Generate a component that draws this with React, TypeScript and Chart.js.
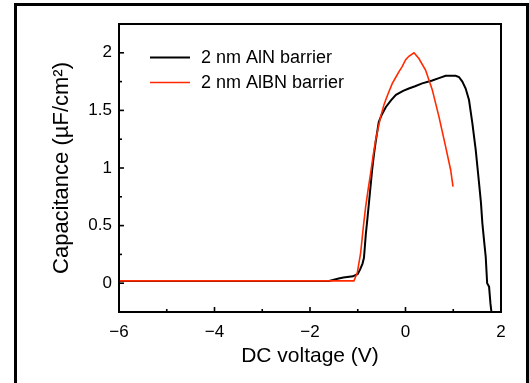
import React, { useEffect, useRef } from "react";
import { Chart, registerables } from "chart.js";

Chart.register(...registerables);

// AlN barrier (black) — DC voltage (V) vs capacitance (µF/cm²)
const alnVoltage = [-6, -5, -4, -3, -2, -1.6, -1.5, -1.4, -1.3, -1.1, -1.0, -0.95, -0.9, -0.87, -0.83, -0.8, -0.76, -0.7, -0.66, -0.62, -0.56, -0.5, -0.41, -0.3, -0.2, -0.05, 0.07, 0.2, 0.35, 0.56, 0.7, 0.84, 0.95, 1.05, 1.12, 1.19, 1.26, 1.33, 1.4, 1.47, 1.54, 1.58, 1.61, 1.65, 1.68, 1.71, 1.75, 1.78, 1.8];
const alnCap = [0.02, 0.02, 0.02, 0.02, 0.02, 0.02, 0.03, 0.04, 0.05, 0.06, 0.08, 0.12, 0.17, 0.22, 0.43, 0.55, 0.72, 0.98, 1.12, 1.24, 1.4, 1.46, 1.53, 1.59, 1.635, 1.67, 1.69, 1.71, 1.735, 1.76, 1.78, 1.8, 1.8, 1.8, 1.79, 1.75, 1.69, 1.59, 1.39, 1.16, 0.87, 0.7, 0.52, 0.35, 0.23, 0.0, -0.03, -0.18, -0.25];

// AlBN barrier (red)
const albnVoltage = [-6, -5, -4, -3, -2, -1.5, -1.08, -1.01, -0.94, -0.88, -0.834, -0.78, -0.73, -0.68, -0.625, -0.57, -0.52, -0.45, -0.415, -0.35, -0.276, -0.2, -0.136, -0.07, 0.004, 0.07, 0.178, 0.28, 0.42, 0.56, 0.7, 0.84, 0.946, 0.995];
const albnCap = [0.02, 0.02, 0.02, 0.02, 0.02, 0.02, 0.02, 0.09, 0.26, 0.5, 0.665, 0.82, 0.955, 1.1, 1.244, 1.35, 1.446, 1.55, 1.59, 1.66, 1.735, 1.79, 1.836, 1.88, 1.94, 1.97, 2.0, 1.95, 1.85, 1.68, 1.446, 1.186, 0.983, 0.839];

const seriesLabels = ["2 nm AlN barrier", "2 nm AlBN barrier"];
const seriesColors = ["#000000", "#ff2a00"];

const xMajorTicks = [-6, -4, -2, 0, 2];
const xMinorTicks = [-5, -3, -1, 1];
const yMajorTicks = [0, 0.5, 1, 1.5, 2];
const yMinorTicks = [-0.25, 0.25, 0.75, 1.25, 1.75, 2.25];

const FONT = "'Liberation Sans', Arial, sans-serif";

const boxPlugin = {
  id: "boxAndTicks",
  afterDatasetsDraw(chart: any) {
    const { ctx, chartArea, scales } = chart;
    const { left, right, top, bottom } = chartArea;
    ctx.save();
    ctx.strokeStyle = "#000";
    ctx.lineWidth = 2;
    ctx.strokeRect(left, top, right - left, bottom - top);
    ctx.lineWidth = 1.6;
    const xs = scales.x;
    const ys = scales.y;
    const drawX = (vals: number[], len: number) => {
      vals.forEach((v) => {
        const px = xs.getPixelForValue(v);
        ctx.beginPath();
        ctx.moveTo(px, bottom);
        ctx.lineTo(px, bottom - len);
        ctx.stroke();
      });
    };
    const drawY = (vals: number[], len: number) => {
      vals.forEach((v) => {
        const py = ys.getPixelForValue(v);
        ctx.beginPath();
        ctx.moveTo(left, py);
        ctx.lineTo(left + len, py);
        ctx.stroke();
      });
    };
    drawX(xMajorTicks, 5);
    drawX(xMinorTicks, 3);
    drawY(yMajorTicks, 5);
    drawY(yMinorTicks, 3);

    // legend
    ctx.font = `18px ${FONT}`;
    ctx.textBaseline = "middle";
    ctx.textAlign = "left";
    seriesLabels.forEach((lab, i) => {
      const y = top + 33.5 + i * 25;
      ctx.strokeStyle = seriesColors[i];
      ctx.lineWidth = i === 0 ? 2 : 1.6;
      ctx.beginPath();
      ctx.moveTo(left + 31, y);
      ctx.lineTo(left + 71, y);
      ctx.stroke();
      ctx.fillStyle = "#000";
      ctx.fillText(lab, left + 82, y + 1);
    });
    ctx.restore();
  },
};

const fmt = (v: number) => (v < 0 ? "\u2212" + Math.abs(v) : String(v));

export default function App() {
  const ref = useRef<HTMLCanvasElement | null>(null);
  useEffect(() => {
    if (!ref.current) return;
    const chart = new Chart(ref.current, {
      type: "line",
      data: {
        datasets: [
          {
            label: seriesLabels[0],
            data: alnVoltage.map((x, i) => ({ x, y: alnCap[i] })),
            borderColor: seriesColors[0],
            borderWidth: 2,
            pointRadius: 0,
            tension: 0,
            order: 2,
          },
          {
            label: seriesLabels[1],
            data: albnVoltage.map((x, i) => ({ x, y: albnCap[i] })),
            borderColor: seriesColors[1],
            borderWidth: 1.6,
            pointRadius: 0,
            tension: 0,
            order: 1,
          },
        ],
      },
      options: {
        animation: false,
        responsive: false,
        devicePixelRatio: 1,
        layout: { padding: { left: 0, top: 24, right: 28, bottom: 0 } },
        plugins: { legend: { display: false }, tooltip: { enabled: false } },
        scales: {
          x: {
            type: "linear",
            min: -6,
            max: 2,
            afterBuildTicks: (s: any) => {
              s.ticks = xMajorTicks.map((value) => ({ value }));
            },
            afterFit: (s: any) => {
              s.height = 71;
            },
            grid: { display: false, drawTicks: false },
            border: { display: false },
            ticks: {
              color: "#000",
              font: { size: 17, family: FONT },
              padding: 10,
              maxRotation: 0,
              callback: (v: any) => fmt(Number(v)),
            },
            title: {
              display: true,
              text: "DC voltage (V)",
              color: "#000",
              font: { size: 21, family: FONT },
              padding: { top: 0, bottom: 14 },
            },
          },
          y: {
            type: "linear",
            min: -0.25,
            max: 2.25,
            afterBuildTicks: (s: any) => {
              s.ticks = yMajorTicks.map((value) => ({ value }));
            },
            afterFit: (s: any) => {
              s.width = 119;
            },
            grid: { display: false, drawTicks: false },
            border: { display: false },
            ticks: {
              color: "#000",
              font: { size: 17, family: FONT },
              padding: 7,
              callback: (v: any) => fmt(Number(v)),
            },
            title: {
              display: true,
              text: "Capacitance (\u00b5F/cm\u00b2)",
              color: "#000",
              font: { size: 22, family: FONT },
              padding: { top: 49, bottom: 0 },
            },
          },
        },
      },
      plugins: [boxPlugin],
    } as any);
    return () => chart.destroy();
  }, []);

  return (
    <div
      style={{
        position: "fixed",
        left: 0,
        top: 0,
        width: 529,
        height: 383,
        overflow: "hidden",
        background: "#fff",
      }}
    >
      <canvas ref={ref} width={529} height={383} style={{ position: "absolute", left: 0, top: 0 }} />
      <div
        style={{
          position: "absolute",
          left: 14,
          top: 3,
          width: 515,
          height: 420,
          boxSizing: "border-box",
          borderLeft: "3px solid #000",
          borderTop: "3px solid #000",
          borderRight: "3px solid #000",
          pointerEvents: "none",
        }}
      />
    </div>
  );
}
